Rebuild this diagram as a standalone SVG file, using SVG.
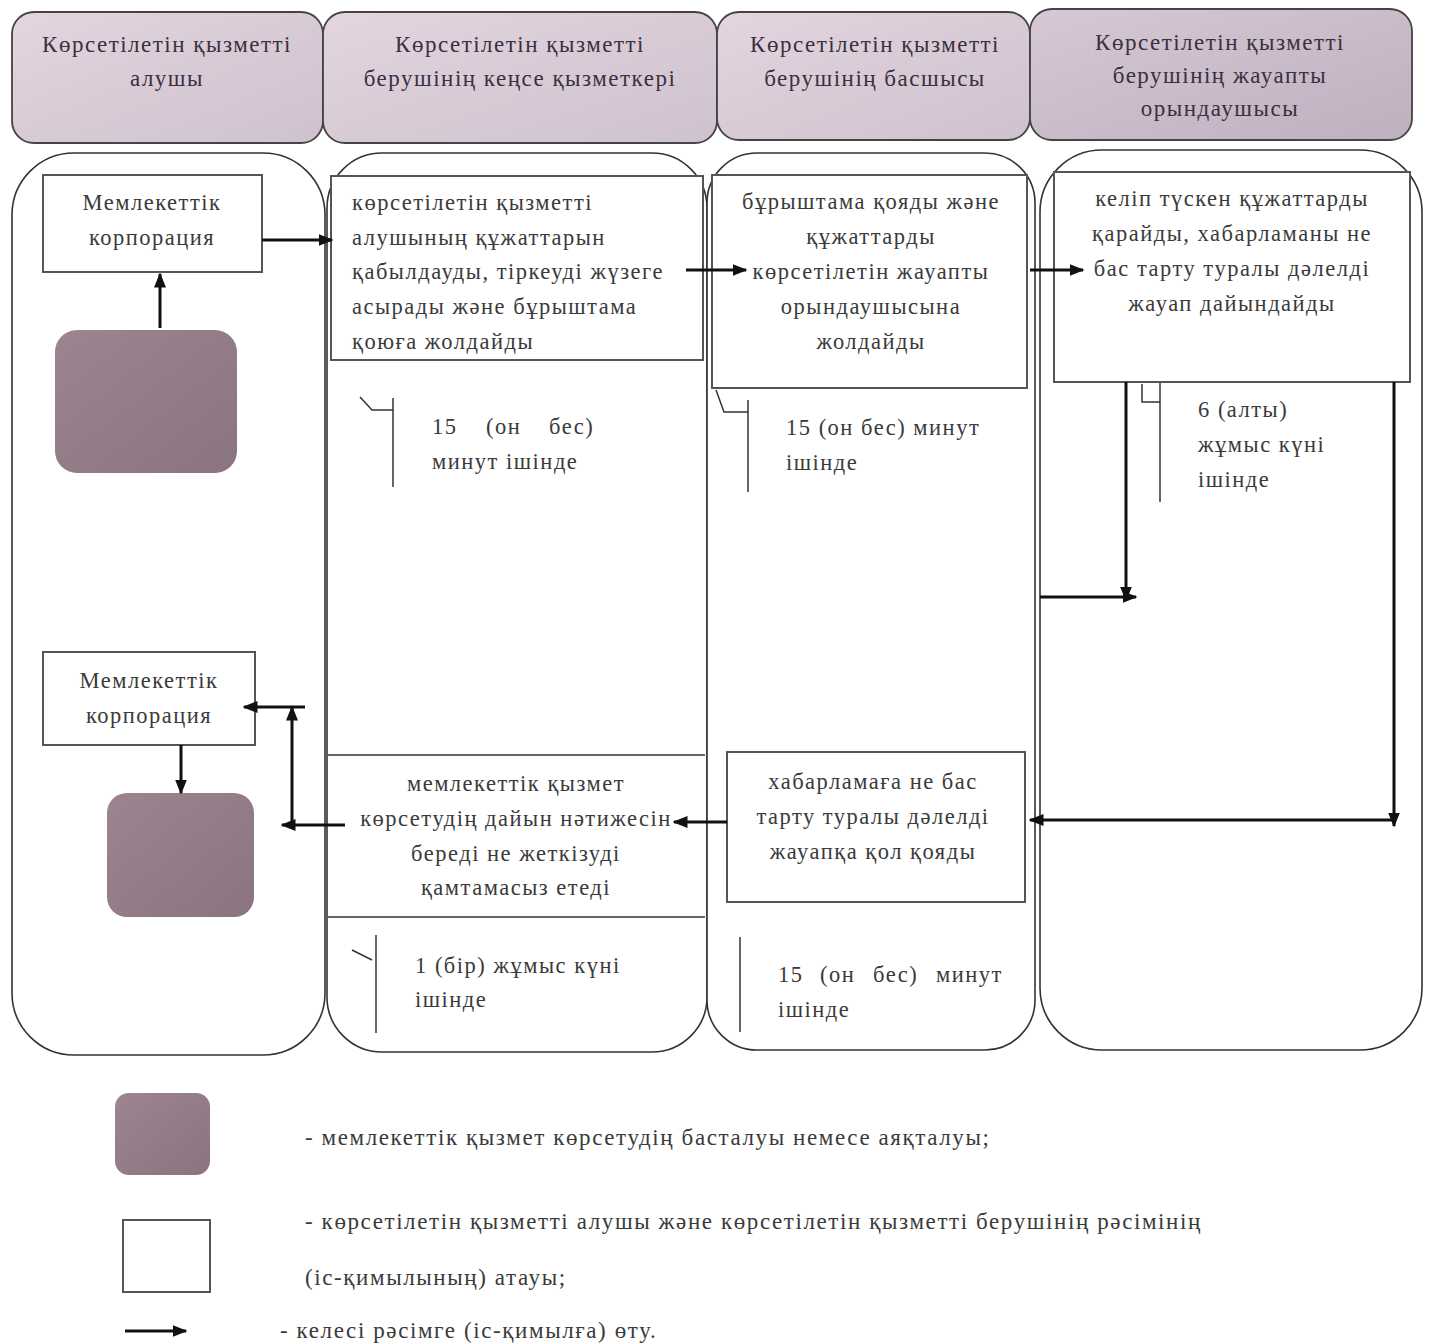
<svg xmlns="http://www.w3.org/2000/svg" width="1430" height="1343" viewBox="0 0 1430 1343">
<defs>
<linearGradient id="hg" x1="0" y1="0" x2="1" y2="1">
<stop offset="0" stop-color="#e4d6df"/>
<stop offset="0.5" stop-color="#d9cbd6"/>
<stop offset="1" stop-color="#cfc2cf"/>
</linearGradient>
<linearGradient id="hg4" x1="0" y1="0" x2="1" y2="1">
<stop offset="0" stop-color="#d6c8d4"/>
<stop offset="1" stop-color="#bfb0c0"/>
</linearGradient>
<linearGradient id="pg" x1="0" y1="0" x2="1" y2="1">
<stop offset="0" stop-color="#9c8590"/>
<stop offset="1" stop-color="#8a7480"/>
</linearGradient>
<marker id="ah" viewBox="0 0 10 10" refX="9" refY="5" markerWidth="5" markerHeight="5" orient="auto" markerUnits="strokeWidth">
<path d="M0,1 L10,5 L0,9 z" fill="#111"/>
</marker>
<style>
.hdr{fill:url(#hg);stroke:#444;stroke-width:1.8}
.lane{fill:#fff;stroke:#333;stroke-width:1.6}
.box{fill:#fff;stroke:#555;stroke-width:2}
.term{fill:url(#pg);stroke:none}
.t{font-family:"Liberation Serif","DejaVu Serif",serif;font-size:22.5px;letter-spacing:1.5px;fill:#3a3a3a}
.lg{font-size:23px;letter-spacing:1.6px}
.th{font-family:"Liberation Serif","DejaVu Serif",serif;font-size:23px;letter-spacing:1.5px;fill:#3a3040}
.c{text-anchor:middle}
.ar{fill:none;stroke:#111;stroke-width:3;marker-end:url(#ah)}
.tm{fill:none;stroke:#333;stroke-width:1.5}
</style>
</defs>
<g id="headers">
<rect class="hdr" x="12" y="12" width="311" height="131" rx="22"/>
<rect class="hdr" x="323" y="12" width="394" height="131" rx="22"/>
<rect class="hdr" x="717" y="12" width="313" height="128" rx="22"/>
<rect x="1030" y="9" width="382" height="131" rx="22" fill="url(#hg4)" stroke="#444" stroke-width="1.8"/>
<text class="th c" x="167" y="52">Көрсетілетін қызметті</text>
<text class="th c" x="167" y="86">алушы</text>
<text class="th c" x="520" y="52">Көрсетілетін қызметті</text>
<text class="th c" x="520" y="86">берушінің кеңсе қызметкері</text>
<text class="th c" x="875" y="52">Көрсетілетін қызметті</text>
<text class="th c" x="875" y="86">берушінің басшысы</text>
<text class="th c" x="1220" y="50">Көрсетілетін қызметті</text>
<text class="th c" x="1220" y="83">берушінің жауапты</text>
<text class="th c" x="1220" y="116">орындаушысы</text>
</g>
<g id="lanes">
<rect class="lane" x="12" y="153" width="313" height="902" rx="62"/>
<rect class="lane" x="327" y="153" width="380" height="899" rx="55"/>
<rect class="lane" x="707" y="153" width="328" height="897" rx="50"/>
<rect class="lane" x="1040" y="150" width="382" height="900" rx="62"/>
</g>
<g id="n1">
<rect class="box" x="43" y="175" width="219" height="97"/>
<text class="t c" x="152" y="210">Мемлекеттік</text>
<text class="t c" x="152" y="245">корпорация</text>
</g>
<g id="start">
<rect class="term" x="55" y="330" width="182" height="143" rx="22"/>
</g>
<g id="n2">
<rect class="box" x="331" y="176" width="372" height="184"/>
<text class="t" x="352" y="210">көрсетілетін қызметті</text>
<text class="t" x="352" y="245">алушының құжаттарын</text>
<text class="t" x="352" y="279">қабылдауды, тіркеуді жүзеге</text>
<text class="t" x="352" y="314">асырады және бұрыштама</text>
<text class="t" x="352" y="349">қоюға жолдайды</text>
</g>
<g id="n3">
<rect class="box" x="712" y="175" width="315" height="213"/>
<text class="t c" x="871" y="209">бұрыштама қояды және</text>
<text class="t c" x="871" y="244">құжаттарды</text>
<text class="t c" x="871" y="279">көрсетілетін жауапты</text>
<text class="t c" x="871" y="314">орындаушысына</text>
<text class="t c" x="871" y="349">жолдайды</text>
</g>
<g id="n4">
<rect class="box" x="1054" y="172" width="356" height="210"/>
<text class="t c" x="1232" y="206">келіп түскен құжаттарды</text>
<text class="t c" x="1232" y="241">қарайды, хабарламаны не</text>
<text class="t c" x="1232" y="276">бас тарту туралы дәлелді</text>
<text class="t c" x="1232" y="311">жауап дайындайды</text>
</g>
<g id="n5">
<rect class="box" x="727" y="752" width="298" height="150"/>
<text class="t c" x="873" y="789">хабарламаға не бас</text>
<text class="t c" x="873" y="824">тарту туралы дәлелді</text>
<text class="t c" x="873" y="859">жауапқа қол қояды</text>
</g>
<g id="n6">
<line x1="328" y1="755" x2="705" y2="755" stroke="#666" stroke-width="2"/>
<line x1="328" y1="917" x2="705" y2="917" stroke="#666" stroke-width="2"/>
<text class="t c" x="516" y="791">мемлекеттік қызмет</text>
<text class="t c" x="516" y="826">көрсетудің дайын нәтижесін</text>
<text class="t c" x="516" y="861">береді  не жеткізуді</text>
<text class="t c" x="516" y="895">қамтамасыз етеді</text>
</g>
<g id="n7">
<rect class="box" x="43" y="652" width="212" height="93"/>
<text class="t c" x="149" y="688">Мемлекеттік</text>
<text class="t c" x="149" y="723">корпорация</text>
</g>
<g id="end">
<rect class="term" x="107" y="793" width="147" height="124" rx="20"/>
</g>
<g id="timing">
<path class="tm" d="M360,397 L372,410 L393,410 M393,398 L393,487"/>
<text class="t" y="434"><tspan x="432">15</tspan><tspan x="486">(он</tspan><tspan x="549">бес)</tspan></text>
<text class="t" x="432" y="469">минут ішінде</text>
<path class="tm" d="M716,390 L724,412 L748,412 M748,400 L748,492"/>
<text class="t" x="786" y="435">15 (он бес) минут</text>
<text class="t" x="786" y="470">ішінде</text>
<path class="tm" d="M1142,384 L1142,402 L1160,402 M1160,383 L1160,502"/>
<text class="t" x="1198" y="417">6 (алты)</text>
<text class="t" x="1198" y="452">жұмыс күні</text>
<text class="t" x="1198" y="487">ішінде</text>
<path class="tm" d="M352,950 L372,960 M376,935 L376,1033"/>
<text class="t" x="415" y="973">1 (бір)  жұмыс күні</text>
<text class="t" x="415" y="1007">ішінде</text>
<path class="tm" d="M740,937 L740,1032"/>
<text class="t" y="982"><tspan x="778">15</tspan><tspan x="820">(он</tspan><tspan x="873">бес)</tspan><tspan x="936">минут</tspan></text>
<text class="t" x="778" y="1017">ішінде</text>
</g>
<g id="connectors">
<line class="ar" x1="160" y1="328" x2="160" y2="274"/>
<line class="ar" x1="262" y1="240" x2="332" y2="240"/>
<line class="ar" x1="686" y1="270" x2="746" y2="270"/>
<line class="ar" x1="1030" y1="270" x2="1083" y2="270"/>
<line class="ar" x1="1126" y1="382" x2="1126" y2="600"/>
<line class="ar" x1="1040" y1="597" x2="1136" y2="597"/>
<line class="ar" x1="1394" y1="382" x2="1394" y2="826"/>
<line class="ar" x1="1394" y1="820" x2="1030" y2="820"/>
<line class="ar" x1="727" y1="822" x2="674" y2="822"/>
<line class="ar" x1="345" y1="825" x2="282" y2="825"/>
<line class="ar" x1="292" y1="825" x2="292" y2="707"/>
<line class="ar" x1="305" y1="707" x2="244" y2="707"/>
<line class="ar" x1="181" y1="745" x2="181" y2="793"/>
</g>
<g id="legend">
<rect class="term" x="115" y="1093" width="95" height="82" rx="14"/>
<text class="t lg" x="305" y="1145">-  мемлекеттік қызмет көрсетудің басталуы немесе аяқталуы;</text>
<rect class="box" x="123" y="1220" width="87" height="72"/>
<text class="t lg" x="305" y="1229">- көрсетілетін қызметті алушы және көрсетілетін қызметті берушінің рәсімінің</text>
<text class="t lg" x="305" y="1285">(іс-қимылының) атауы;</text>
<line class="ar" x1="125" y1="1331" x2="186" y2="1331"/>
<text class="t lg" x="280" y="1338">- келесі рәсімге (іс-қимылға) өту.</text>
</g>
</svg>
